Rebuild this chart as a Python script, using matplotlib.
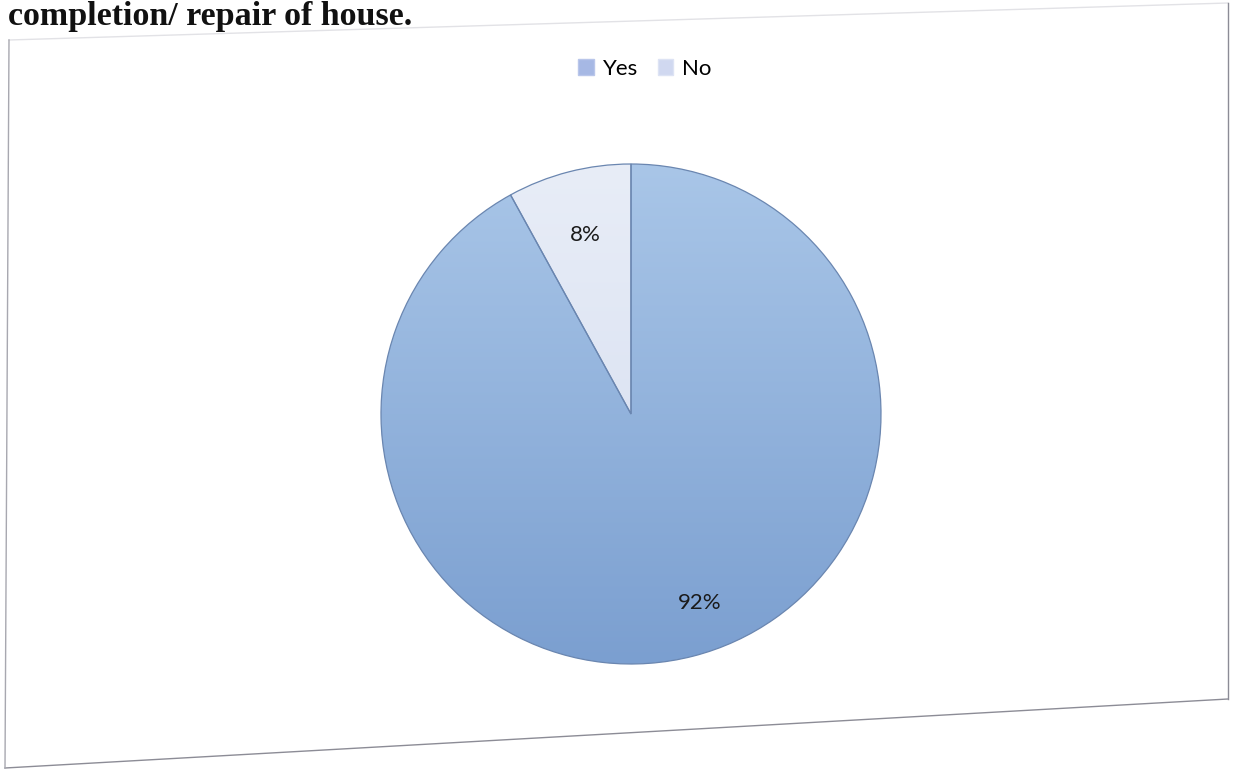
import matplotlib
matplotlib.use('Agg')
import matplotlib.pyplot as plt
import numpy as np
from matplotlib.colors import LinearSegmentedColormap
from matplotlib.lines import Line2D
from matplotlib.patches import Patch

labels = ['Yes', 'No']
values = [92, 8]
title = 'completion/ repair of house.'

W, H = 1234, 769
fig = plt.figure(figsize=(W / 100, H / 100), dpi=100)
fig.patch.set_facecolor('white')

# heading from the page, sitting right at the top edge
fig.text(8 / W, 1 - 25 / H, title, family='Liberation Serif', weight='bold',
         fontsize=24.5, ha='left', va='baseline', color='#111111')

# chart border (page is slightly skewed)
bx = [9, 1228, 1228, 5, 9]
by = [40, 3, 699, 768, 40]
cols = ['#e2e2e6', '#8c8c96', '#8c8c96', '#a8a8b0']
for i in range(4):
    fig.add_artist(Line2D([bx[i] / W, bx[i + 1] / W],
                          [1 - by[i] / H, 1 - by[i + 1] / H],
                          transform=fig.transFigure, color=cols[i], lw=1.0))

cx, cy, r = 631, 414, 250
ax = fig.add_axes([(cx - r) / W, 1 - (cy + r) / H, 2 * r / W, 2 * r / H])
ax.set_xlim(-1, 1)
ax.set_ylim(-1, 1)
ax.set_aspect('equal')
ax.axis('off')

wedges, texts, autotexts = ax.pie(values, startangle=90, counterclock=False,
                                  radius=1, colors=['#93b4dc', '#dde4f2'],
                                  autopct='%1.0f%%', pctdistance=0.77,
                                  wedgeprops=dict(edgecolor='#6a86b0', linewidth=0.9))
# nudge the percentage labels to where the chart places them
label_pos = [(0.276, -0.756), (-0.184, 0.716)]
for t, pos in zip(autotexts, label_pos):
    t.set_position(pos)
    t.set_fontsize(16)
    t.set_family('Lato')
    t.set_color('#1a1a1a')
    t.set_zorder(5)

# soft vertical shading inside each slice
grad = np.linspace(0, 1, 256).reshape(-1, 1)
cmaps = [LinearSegmentedColormap.from_list('yes', ['#a9c6e8', '#7b9fd0']),
         LinearSegmentedColormap.from_list('no', ['#e8edf7', '#d3dcef'])]
for w, cm in zip(wedges, cmaps):
    im = ax.imshow(grad, extent=[-1, 1, -1, 1], origin='upper', cmap=cm,
                   aspect='auto', zorder=w.get_zorder() + 0.1)
    im.set_clip_path(w)
    w.set_facecolor('none')
    w.set_zorder(w.get_zorder() + 0.2)
ax.set_xlim(-1, 1)
ax.set_ylim(-1, 1)

handles = [Patch(facecolor='#a6b8e4', edgecolor='#b9c6ea'),
           Patch(facecolor='#d0d8f0', edgecolor='#dde3f4')]
fig.legend(handles, labels, loc='center', bbox_to_anchor=(645 / W, 1 - 69 / H),
           ncol=2, frameon=False, handlelength=0.7, handleheight=0.7,
           columnspacing=0.9, handletextpad=0.4,
           prop={'family': 'Lato', 'size': 16})

fig.savefig('out.png', dpi=100)
